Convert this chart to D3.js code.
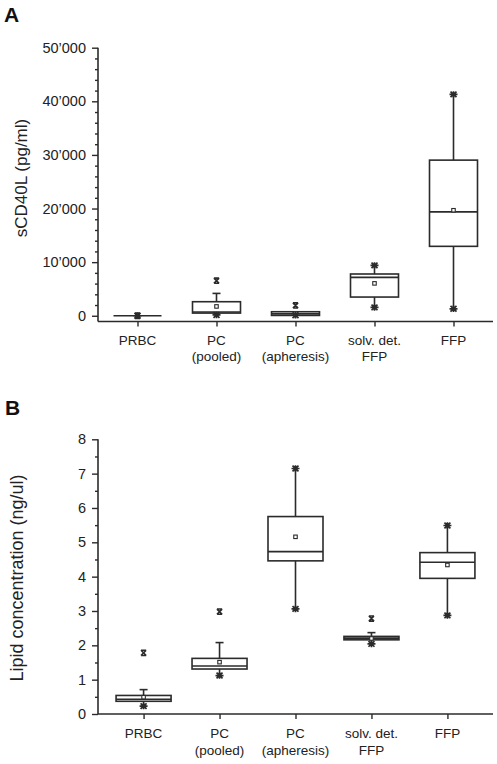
<!DOCTYPE html>
<html>
<head>
<meta charset="utf-8">
<script src="https://cdn.jsdelivr.net/npm/d3@7"></script>
<style>
  html, body { margin: 0; padding: 0; background: #fff; }
  svg { display: block; font-family: "Liberation Sans", Arial, sans-serif; }
</style>
</head>
<body>
<svg id="chart" width="497" height="764"></svg>
<script>
// ---------- DATA ----------
const categories = ["PRBC", "PC\n(pooled)", "PC\n(apheresis)", "solv. det.\nFFP", "FFP"];

// Panel A: sCD40L (pg/ml)
const aQ1      = [0, 500, 60, 3490, 12950];
const aMedian  = [0, 700, 350, 7160, 19380];
const aQ3      = [0, 2620, 750, 7790, 29030];
const aMean    = [0, 1740, 400, 6040, 19680];
const aWhiskLo = [0, 200, 60, 1550, 1300];
const aWhiskHi = [0, 4170, 750, 9400, 41300];
const aCapHi   = [false, true, false, false, false];
const aCross   = [[0], [6540], [1925], [], []];
const aStar    = [[0], [150], [100], [1550, 9400], [1300, 41300]];
const aTicks   = [0, 10000, 20000, 30000, 40000, 50000];
const aTickLabels = ["0", "10’000", "20’000", "30’000", "40’000", "50’000"];

// Panel B: Lipid concentration (ng/ul)
const bQ1      = [0.37, 1.31, 4.46, 2.16, 3.95];
const bMedian  = [0.43, 1.40, 4.73, 2.21, 4.42];
const bQ3      = [0.54, 1.62, 5.75, 2.26, 4.70];
const bMean    = [0.49, 1.51, 5.16, 2.20, 4.34];
const bWhiskLo = [0.23, 1.12, 3.06, 2.04, 2.87];
const bWhiskHi = [0.71, 2.08, 7.15, 2.37, 5.49];
const bCapHi   = [true, true, false, true, false];
const bCross   = [[1.78], [2.98], [], [2.78], []];
const bStar    = [[0.23], [1.12], [3.06, 7.15], [2.04], [2.87, 5.49]];
const bTicks   = [0, 1, 2, 3, 4, 5, 6, 7, 8];
const bTickLabels = ["0", "1", "2", "3", "4", "5", "6", "7", "8"];

// ---------- DRAW ----------
const svg = d3.select("#chart");
const ink = "#2b2b2b";

function drawPanel(cfg) {
  const g = svg.append("g");
  const x = d3.scalePoint().domain(categories).range([cfg.left, cfg.right]).padding(cfg.pad);
  const y = d3.scaleLinear().domain(cfg.yDomain).range([cfg.bottom, cfg.top]);

  // panel letter
  svg.append("text").attr("x", cfg.letterX).attr("y", cfg.letterY)
    .attr("font-size", 21).attr("font-weight", "bold").attr("fill", "#111").text(cfg.letter);

  // y axis
  const yAxis = d3.axisLeft(y).tickValues(cfg.ticks).tickSize(6).tickPadding(6)
    .tickFormat((d, i) => cfg.tickLabels[i]);
  const ya = g.append("g").attr("transform", `translate(${cfg.left},0)`).call(yAxis);
  ya.select(".domain").attr("d", `M0,${cfg.bottom}V${y(cfg.ticks[cfg.ticks.length - 1])}`)
    .attr("stroke", ink).attr("stroke-width", 1.6);
  ya.selectAll(".tick line").attr("stroke", ink).attr("stroke-width", 1.4);
  ya.selectAll(".tick text").attr("font-size", 14.5).attr("fill", "#222")
    .attr("font-family", "'Liberation Sans', Arial, sans-serif");
  // minor ticks
  const minorAxis = d3.axisLeft(y).tickValues(cfg.minor).tickSize(3).tickFormat("");
  const ym = g.append("g").attr("transform", `translate(${cfg.left},0)`).call(minorAxis);
  ym.select(".domain").remove();
  ym.selectAll(".tick line").attr("stroke", ink).attr("stroke-width", 1.4);

  // x axis
  const xAxis = d3.axisBottom(x).tickSize(5).tickFormat("");
  const xa = g.append("g").attr("transform", `translate(0,${cfg.bottom})`).call(xAxis);
  xa.select(".domain").attr("d", `M${cfg.left},0H${cfg.right}`).attr("stroke", ink).attr("stroke-width", 1.6);
  xa.selectAll(".tick line").attr("stroke", ink).attr("stroke-width", 1.4);

  // category labels
  categories.forEach(c => {
    const lines = c.split("\n");
    const t = g.append("text").attr("text-anchor", "middle").attr("font-size", 13.5).attr("fill", "#222");
    lines.forEach((ln, i) => {
      t.append("tspan").attr("x", x(c)).attr("y", cfg.labelY + i * cfg.labelDy).text(ln);
    });
  });

  // y title
  g.append("text")
    .attr("transform", `translate(${cfg.titleX},${cfg.titleY}) rotate(-90)`)
    .attr("text-anchor", "middle").attr("font-size", cfg.titleSize).attr("fill", "#222")
    .text(cfg.title);

  // boxes
  const bw = cfg.boxW;
  categories.forEach((c, i) => {
    const cx = x(c);
    const bg = g.append("g").attr("stroke", ink).attr("fill", "none").attr("stroke-width", 1.6);
    // whiskers
    bg.append("line").attr("x1", cx).attr("x2", cx).attr("y1", y(cfg.q3[i])).attr("y2", y(cfg.whiskHi[i]));
    bg.append("line").attr("x1", cx).attr("x2", cx).attr("y1", y(cfg.q1[i])).attr("y2", y(cfg.whiskLo[i]));
    if (cfg.capHi[i]) {
      bg.append("line").attr("x1", cx - 4).attr("x2", cx + 4).attr("y1", y(cfg.whiskHi[i])).attr("y2", y(cfg.whiskHi[i]));
    }
    // box
    const top = y(cfg.q3[i]), bot = y(cfg.q1[i]);
    if (bot - top < 0.5) {
      bg.append("line").attr("x1", cx - bw / 2).attr("x2", cx + bw / 2).attr("y1", top).attr("y2", top);
    } else {
      bg.append("rect").attr("x", cx - bw / 2).attr("y", top).attr("width", bw).attr("height", bot - top);
      bg.append("line").attr("x1", cx - bw / 2).attr("x2", cx + bw / 2)
        .attr("y1", y(cfg.median[i])).attr("y2", y(cfg.median[i]));
    }
    // mean square
    bg.append("rect").attr("x", cx - 1.75).attr("y", y(cfg.mean[i]) - 1.75).attr("width", 3.5).attr("height", 3.5)
      .attr("stroke-width", 1.1).attr("fill", "#fff");
    // cross markers (hourglass x)
    cfg.cross[i].forEach(v => {
      const yy = y(v), s = 2.6;
      bg.append("path").attr("d", `M${cx - s},${yy - s}L${cx + s},${yy + s}M${cx + s},${yy - s}L${cx - s},${yy + s}M${cx - s},${yy - s}H${cx + s}M${cx - s},${yy + s}H${cx + s}`)
        .attr("stroke-width", 1.6);
    });
    // star markers
    cfg.star[i].forEach(v => {
      const yy = y(v), r = 4;
      bg.append("path").attr("d",
        `M${cx - r},${yy}H${cx + r}M${cx},${yy - r * 0.8}V${yy + r * 0.8}` +
        `M${cx - r * 0.75},${yy - r * 0.7}L${cx + r * 0.75},${yy + r * 0.7}` +
        `M${cx + r * 0.75},${yy - r * 0.7}L${cx - r * 0.75},${yy + r * 0.7}`)
        .attr("stroke-width", 1.7);
    });
  });
}

drawPanel({
  letter: "A", letterX: 4, letterY: 22,
  left: 98, right: 493, top: 47.7, bottom: 321.5, pad: 0.5,
  yDomain: [-1070, 50000],
  ticks: aTicks, tickLabels: aTickLabels,
  minor: d3.range(0, 50001, 2000).filter(v => v % 10000 !== 0),
  labelY: 345, labelDy: 16,
  title: "sCD40L (pg/ml)", titleX: 27, titleY: 178, titleSize: 17,
  boxW: 48,
  q1: aQ1, median: aMedian, q3: aQ3, mean: aMean, whiskLo: aWhiskLo, whiskHi: aWhiskHi,
  capHi: aCapHi, cross: aCross, star: aStar
});

drawPanel({
  letter: "B", letterX: 5, letterY: 415,
  left: 98, right: 493, top: 439.3, bottom: 714, pad: 0.6,
  yDomain: [0, 8],
  ticks: bTicks, tickLabels: bTickLabels,
  minor: d3.range(0.5, 8, 1),
  labelY: 738, labelDy: 16.5,
  title: "Lipid concentration (ng/ul)", titleX: 23, titleY: 578, titleSize: 18,
  boxW: 55,
  q1: bQ1, median: bMedian, q3: bQ3, mean: bMean, whiskLo: bWhiskLo, whiskHi: bWhiskHi,
  capHi: bCapHi, cross: bCross, star: bStar
});
</script>
</body>
</html>
